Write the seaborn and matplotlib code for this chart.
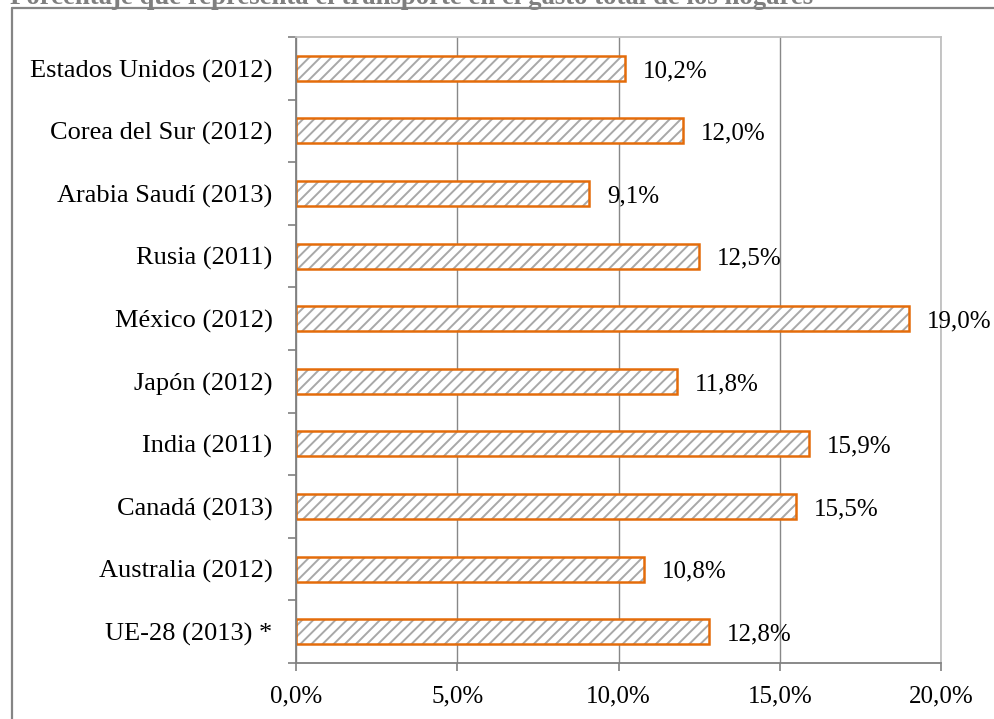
import matplotlib
matplotlib.use("Agg")
import matplotlib.pyplot as plt
import seaborn as sns
import pandas as pd
from matplotlib.lines import Line2D

categories = ["Estados Unidos (2012)", "Corea del Sur (2012)", "Arabia Saudí (2013)",
              "Rusia (2011)", "México (2012)", "Japón (2012)", "India (2011)",
              "Canadá (2013)", "Australia (2012)", "UE-28 (2013) *"]
values = [10.2, 12.0, 9.1, 12.5, 19.0, 11.8, 15.9, 15.5, 10.8, 12.8]
x_ticks = [0, 5, 10, 15, 20]
x_tick_labels = ["0,0%", "5,0%", "10,0%", "15,0%", "20,0%"]
title = "Porcentaje que representa el transporte en el gasto total de los hogares"

sns.set_theme(style="white")
plt.rcParams["font.family"] = ["Liberation Serif", "DejaVu Serif"]
plt.rcParams["hatch.linewidth"] = 1.4
plt.rcParams["hatch.color"] = "#a8a8a8"

df = pd.DataFrame({"pais": categories, "valor": values})

fig = plt.figure(figsize=(9.94, 7.19), dpi=100)
ax = fig.add_axes([296/994, 1-663/719, (941-296)/994, (663-37)/719])

# hatched fill (gray hatch, no edge)
sns.barplot(data=df, x="valor", y="pais", orient="h", ax=ax, color="white",
            width=0.4, linewidth=0, saturation=1, errorbar=None)
for p in ax.patches:
    p.set_hatch("///")
    p.set_edgecolor("#a8a8a8")
    p.set_linewidth(0)
# orange outline
sns.barplot(data=df, x="valor", y="pais", orient="h", ax=ax, fill=False,
            width=0.4, linewidth=1.8, edgecolor="#E46C0A", errorbar=None)

ax.set_xlim(0, 20)
ax.set_ylim(len(categories) - 0.5, -0.5)
ax.set_xlabel("")
ax.set_ylabel("")

ax.set_xticks(x_ticks)
ax.set_xticklabels(x_tick_labels, fontsize=18, color="black")
ax.grid(axis="x", color="#888888", linewidth=1.0)
ax.set_axisbelow(True)

ax.set_yticks(range(len(categories)))
ax.set_yticklabels(categories, fontsize=19, color="black")
ax.set_yticks([i - 0.5 for i in range(len(categories) + 1)], minor=True)
ax.tick_params(axis="y", which="major", length=0, pad=17)
ax.tick_params(axis="y", which="minor", left=True, length=6, width=1.2, color="#808080", direction="out")
ax.tick_params(axis="x", which="major", bottom=True, length=6, width=1.2, color="#808080",
               direction="out", pad=10)

for s in ["left", "bottom"]:
    ax.spines[s].set_color("#808080")
    ax.spines[s].set_linewidth(1.3)
for s in ["top", "right"]:
    ax.spines[s].set_color("#c0c0c0")
    ax.spines[s].set_linewidth(1.3)

for i, v in enumerate(values):
    ax.annotate(f"{v:.1f}%".replace(".", ","), xy=(v, i), xytext=(13, -2),
                textcoords="offset points", ha="left", va="center", fontsize=18, color="black")

# outer frame and title
fig.add_artist(Line2D([12/994, 12/994], [0, 1-8/719], transform=fig.transFigure,
                      color="#858585", linewidth=1.6))
fig.add_artist(Line2D([12/994, 1], [1-8/719, 1-8/719], transform=fig.transFigure,
                      color="#858585", linewidth=1.6))
fig.text(10/994, 1-4.5/719, title, fontsize=19.3, fontweight="bold", color="#7f7f7f",
         ha="left", va="baseline")

fig.savefig("out.png", dpi=100)
